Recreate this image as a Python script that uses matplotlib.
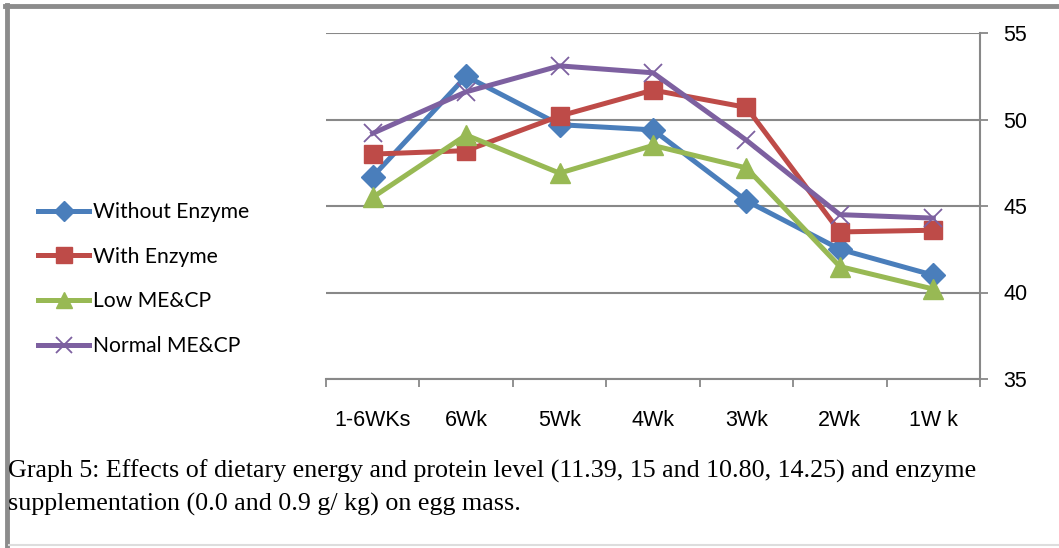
import matplotlib
matplotlib.use("Agg")
import matplotlib.pyplot as plt
from matplotlib.lines import Line2D
from matplotlib.ticker import FixedLocator, NullFormatter, FixedFormatter

categories = ["1-6WKs", "6Wk", "5Wk", "4Wk", "3Wk", "2Wk", "1W k"]
without_enzyme = [46.7, 52.5, 49.7, 49.4, 45.3, 42.5, 41.0]
with_enzyme = [48.0, 48.2, 50.2, 51.7, 50.7, 43.5, 43.6]
low_me_cp = [45.5, 49.1, 46.9, 48.5, 47.2, 41.5, 40.2]
normal_me_cp = [49.2, 51.6, 53.1, 52.7, 48.8, 44.5, 44.3]
y_ticks = [35, 40, 45, 50, 55]

caption_lines = ["Graph 5: Effects of dietary energy and protein level (11.39, 15 and 10.80, 14.25) and enzyme",
                 "supplementation (0.0 and 0.9 g/ kg) on egg mass."]

grid_col = "#888888"

fig = plt.figure(figsize=(10.59, 5.48), dpi=100)
ax = fig.add_axes([326 / 1059, 1 - 379 / 548, 654 / 1059, 346 / 548])

x = list(range(len(categories)))
ax.plot(x, without_enzyme, color="#4A7EBB", lw=3.6, marker="D", ms=12, label="Without Enzyme")
ax.plot(x, with_enzyme, color="#BE4B48", lw=3.6, marker="s", ms=13, label="With Enzyme")
ax.plot(x, low_me_cp, color="#98B954", lw=3.6, marker="^", ms=14, label="Low ME&CP")
ax.plot(x, normal_me_cp, color="#7D60A0", lw=3.6, marker="x", ms=13, mew=1.3, label="Normal ME&CP")

ax.set_xlim(-0.5, len(categories) - 0.5)
ax.set_ylim(35, 55)

# value axis on the right, Excel style
ax.yaxis.tick_right()
ax.set_yticks(y_ticks)
ax.tick_params(axis="y", which="major", length=6, width=1.3, color=grid_col, pad=11,
               labelsize=15.5, labelfontfamily="Liberation Sans")
ax.yaxis.grid(True, color=grid_col, lw=1.5)
ax.set_axisbelow(True)

# category ticks sit between categories, labels at the centres
ax.xaxis.set_major_locator(FixedLocator([i - 0.5 for i in range(len(categories) + 1)]))
ax.xaxis.set_major_formatter(NullFormatter())
ax.xaxis.set_minor_locator(FixedLocator(x))
ax.xaxis.set_minor_formatter(FixedFormatter(categories))
ax.tick_params(axis="x", which="major", length=6, width=1.3, color=grid_col)
ax.tick_params(axis="x", which="minor", length=0, pad=22, labelsize=15.5,
               labelfontfamily="Liberation Sans")

for s in ["left", "top"]:
    ax.spines[s].set_visible(False)
for s in ["right", "bottom"]:
    ax.spines[s].set_color(grid_col)
    ax.spines[s].set_linewidth(1.5)

leg = ax.legend(loc="center left", bbox_to_anchor=(30 / 1059, 1 - 279 / 548),
                bbox_transform=fig.transFigure, frameon=False,
                prop={"family": "Lato", "size": 15.2}, handlelength=2.4,
                handletextpad=0.2, labelspacing=1.17, borderaxespad=0)
for h in leg.legend_handles:
    h.set_markersize(h.get_markersize() * 0.85)

for i, line in enumerate(caption_lines):
    fig.text(8 / 1059, 1 - (478 + 33 * i) / 548, line, family="Liberation Serif", size=18.7,
             va="baseline", ha="left")

# page frame
fig.add_artist(Line2D([7 / 1059, 7 / 1059], [0, 1 - 5 / 548], transform=fig.transFigure,
                      color="#8c8c8c", lw=3.5))
fig.add_artist(Line2D([5 / 1059, 1], [1 - 6 / 548, 1 - 6 / 548], transform=fig.transFigure,
                      color="#8c8c8c", lw=3.5))
fig.add_artist(Line2D([9 / 1059, 1], [3 / 548, 3 / 548], transform=fig.transFigure,
                      color="#dddddd", lw=1.5))

fig.savefig("out.png", dpi=100)
